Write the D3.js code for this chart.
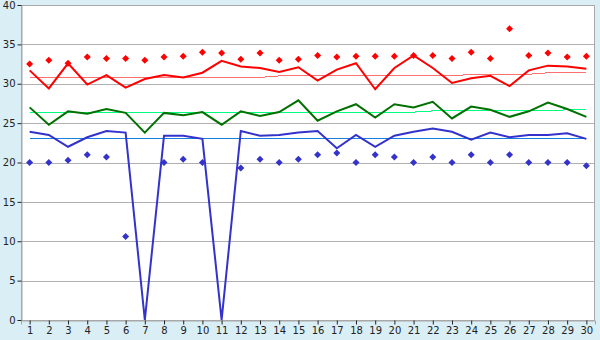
<!DOCTYPE html>
<html>
<head>
<meta charset="utf-8">
<script src="https://cdn.jsdelivr.net/npm/d3@7"></script>
<style>
  body { margin: 0; background: #daeef6; }
  svg { display: block; }
  .tick text { font-family: "DejaVu Sans", sans-serif; font-size: 10px; fill: #222; }
</style>
</head>
<body>
<div id="chart"></div>
<script>
// days of the month
var days = d3.range(1, 31);

// daily max (red diamonds) and its running line
var maxTemp = [32.5,33.0,32.6,33.4,33.2,33.2,33.0,33.4,33.5,34.0,33.9,33.1,33.9,33.0,33.1,33.6,33.4,33.5,33.5,33.5,33.6,33.6,33.2,34.0,33.2,37.0,33.6,33.9,33.4,33.5];
var maxLine = [31.7,29.4,32.6,29.9,31.1,29.5,30.6,31.1,30.8,31.4,32.9,32.2,32.0,31.5,32.1,30.4,31.8,32.6,29.3,32.0,33.6,32.0,30.1,30.7,31.0,29.7,31.7,32.3,32.2,31.9];
var maxNormal = [30.8,30.8,30.8,30.8,30.8,30.8,30.8,30.8,30.8,30.8,30.8,30.8,30.8,31.0,31.0,31.0,31.0,31.0,31.0,31.0,31.0,31.0,31.0,31.2,31.2,31.2,31.2,31.4,31.4,31.4];

// mean
var meanLine = [27.0,24.8,26.5,26.2,26.8,26.3,23.8,26.3,26.0,26.4,24.8,26.5,25.9,26.4,27.9,25.3,26.5,27.4,25.7,27.4,27.0,27.7,25.6,27.1,26.7,25.8,26.5,27.6,26.8,25.8];
var meanNormal = [26.4,26.4,26.4,26.4,26.4,26.4,26.4,26.4,26.4,26.4,26.4,26.4,26.4,26.4,26.4,26.4,26.4,26.4,26.4,26.4,26.4,26.55,26.55,26.55,26.55,26.55,26.55,26.55,26.7,26.7];

// min (blue diamonds) and line
var minTemp = [20.0,20.0,20.3,21.0,20.7,10.6,null,20.0,20.4,20.0,null,19.3,20.4,20.0,20.4,21.0,21.2,20.0,21.0,20.7,20.0,20.7,20.0,21.0,20.0,21.0,20.0,20.0,20.0,19.6];
var minLine = [23.9,23.5,22.0,23.2,24.0,23.8,0,23.4,23.4,23.0,0,24.0,23.4,23.5,23.8,24.0,21.8,23.5,22.0,23.4,23.9,24.3,23.9,22.9,23.8,23.2,23.5,23.5,23.7,23.0];
var minNormal = days.map(function(){ return 23.0; });

var yTicks = [0,5,10,15,20,25,30,35,40];

var width = 600, height = 340;
var plotLeft = 21, plotRight = 595, plotTop = 5, plotBottom = 320;

var svg = d3.select("#chart").append("svg")
  .attr("width", width)
  .attr("height", height);

var x = d3.scalePoint().domain(days).range([plotLeft, plotRight]).padding(0.45);
var y = d3.scaleLinear().domain([0, 40]).range([plotBottom, plotTop]);

// plot area
svg.append("rect")
  .attr("x", plotLeft).attr("y", plotTop)
  .attr("width", plotRight - plotLeft).attr("height", plotBottom - plotTop)
  .attr("fill", "#fff");

// grid
svg.append("g").selectAll("line")
  .data(yTicks)
  .enter().append("line")
  .attr("x1", plotLeft).attr("x2", plotRight)
  .attr("y1", function(d){ return Math.round(y(d)) + 0.5; })
  .attr("y2", function(d){ return Math.round(y(d)) + 0.5; })
  .attr("stroke", "#b0b0b0");

svg.append("rect")
  .attr("x", plotLeft + 0.5).attr("y", plotTop + 0.5)
  .attr("width", plotRight - plotLeft - 1).attr("height", plotBottom - plotTop)
  .attr("fill", "none")
  .attr("stroke", "#a8a8a8");

// axes
var yAxis = svg.append("g")
  .attr("transform", "translate(" + (plotLeft + 0.5) + ",0)")
  .call(d3.axisLeft(y).tickValues(yTicks).tickSize(4).tickPadding(2));
yAxis.select(".domain").attr("stroke", "#a8a8a8");
yAxis.selectAll(".tick line").attr("stroke", "#222");

var xAxis = svg.append("g")
  .attr("transform", "translate(0," + (plotBottom + 0.5) + ")")
  .call(d3.axisBottom(x).tickSize(4).tickPadding(2));
xAxis.select(".domain").attr("stroke", "#a8a8a8");
xAxis.selectAll(".tick line").attr("stroke", "#222");

function drawLine(vals, color, w, crisp) {
  var line = d3.line()
    .defined(function(d){ return d != null; })
    .x(function(d, i){ return x(days[i]); })
    .y(function(d){ return y(d); });
  svg.append("path")
    .datum(vals)
    .attr("d", line)
    .attr("fill", "none")
    .attr("stroke", color)
    .attr("stroke-width", w)
    .attr("shape-rendering", crisp ? "crispEdges" : null);
}

function drawDots(vals, color) {
  svg.append("g").selectAll("path")
    .data(vals.map(function(v, i){ return {day: days[i], v: v}; }).filter(function(d){ return d.v != null; }))
    .enter().append("path")
    .attr("d", "M0,-3.5L3.5,0L0,3.5L-3.5,0Z")
    .attr("transform", function(d){ return "translate(" + x(d.day) + "," + y(d.v) + ")"; })
    .attr("fill", color);
}

// normals, thin
drawLine(maxNormal, "#ff7070", 1, true);
drawLine(meanNormal, "#00ff80", 1, true);
drawLine(minNormal, "#1a80e0", 1, true);

drawLine(maxLine, "#ff0000", 2);
drawLine(meanLine, "#007000", 2);
drawLine(minLine, "#3333cc", 2);

drawDots(maxTemp, "#ff0000");
drawDots(minTemp, "#3333cc");
</script>
</body>
</html>
